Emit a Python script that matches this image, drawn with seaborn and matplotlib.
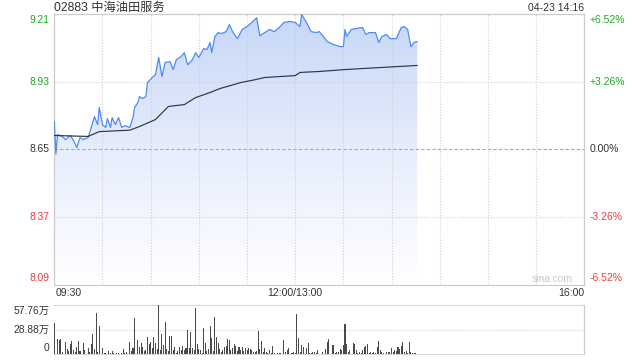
import numpy as np
import pandas as pd
import matplotlib
matplotlib.use("Agg")
import matplotlib.pyplot as plt
import seaborn as sns
from matplotlib.colors import LinearSegmentedColormap
from matplotlib.patches import Polygon

# ---------------- data ----------------
title = "02883 中海油田服务"
timestamp = "04-23 14:16"
prev_close = 8.65
price_ticks = [9.21, 8.93, 8.65, 8.37, 8.09]
pct_labels = ["+6.52%", "+3.26%", "0.00%", "-3.26%", "-6.52%"]
time_labels = ["09:30", "12:00/13:00", "16:00"]
time_label_minutes = [0, 150, 330]
session_minutes = 330
vol_ticks = [57.76, 28.88, 0]
vol_tick_labels = ["57.76万", "28.88万", "0"]

price_minute = [0, 1, 2, 5, 7, 10, 12, 14, 16, 18,
                21, 23, 25, 27, 28, 30, 32, 33, 35, 36,
                38, 40, 42, 44, 47, 49, 50, 52, 53, 55,
                57, 58, 61, 63, 65, 66, 67, 69, 72, 74,
                76, 79, 81, 83, 86, 88, 90, 93, 95, 97,
                98, 100, 102, 104, 107, 109, 111, 114, 117, 120,
                123, 126, 128, 131, 134, 137, 140, 143, 147, 150,
                153, 154, 157, 160, 163, 165, 170, 174, 178, 180,
                181, 182, 185, 188, 192, 194, 196, 200, 202, 204,
                207, 209, 213, 216, 218, 220, 222, 224, 226]
price = [8.766, 8.630, 8.711, 8.703, 8.690, 8.707, 8.686, 8.657, 8.698, 8.690,
         8.698, 8.740, 8.785, 8.752, 8.823, 8.752, 8.740, 8.777, 8.740, 8.781,
         8.752, 8.781, 8.740, 8.748, 8.740, 8.781, 8.823, 8.843, 8.868, 8.860,
         8.868, 8.926, 8.947, 8.959, 9.030, 8.992, 8.951, 9.009, 9.013, 8.980,
         9.021, 9.034, 9.050, 9.000, 9.021, 9.050, 9.030, 9.067, 9.063, 9.092,
         9.050, 9.117, 9.133, 9.129, 9.137, 9.166, 9.137, 9.108, 9.146, 9.158,
         9.175, 9.195, 9.120, 9.133, 9.146, 9.137, 9.154, 9.175, 9.179, 9.175,
         9.158, 9.208, 9.175, 9.137, 9.133, 9.137, 9.096, 9.083, 9.075, 9.075,
         9.146, 9.117, 9.146, 9.150, 9.154, 9.125, 9.133, 9.133, 9.092, 9.117,
         9.125, 9.108, 9.108, 9.154, 9.158, 9.146, 9.075, 9.092, 9.096]

avg_minute = [0, 21, 28, 47, 53, 63, 71, 81, 88, 97, 103, 116, 125, 131, 150, 153, 165, 181, 226]
avg_price = [8.707, 8.703, 8.723, 8.729, 8.744, 8.773, 8.827, 8.835, 8.864, 8.885,
             8.901, 8.926, 8.938, 8.947, 8.955, 8.968, 8.972, 8.980, 8.997]

# volume per minute, in 万 shares: (minute, volume)
volume_bars = [
    (0, 36.3), (2, 17.6), (3, 16.8), (4, 17.9), (5, 3.1), (7, 14.0), (8, 6.2), (9, 4.3),
    (10, 12.1), (11, 15.6), (12, 5.1), (13, 3.1), (14, 9.0), (15, 15.6), (16, 4.3), (18, 13.7),
    (19, 5.1), (21, 7.8), (22, 3.1), (23, 12.1), (24, 23.8), (25, 5.9), (26, 48.0), (27, 3.1),
    (28, 33.5), (30, 7.0), (31, 2.0), (32, 1.2), (34, 4.3), (35, 2.0), (36, 3.9), (37, 2.0),
    (39, 2.0), (40, 1.2), (42, 2.0), (43, 5.9), (44, 1.2), (45, 2.3), (47, 14.0), (48, 3.9),
    (49, 7.8), (50, 42.1), (52, 16.8), (53, 9.0), (54, 12.9), (55, 9.0), (56, 3.5), (57, 5.1),
    (58, 20.7), (59, 11.7), (60, 14.8), (61, 7.8), (62, 20.7), (63, 13.7), (64, 5.9), (65, 57.7),
    (66, 5.1), (67, 23.8), (68, 10.9), (69, 37.4), (70, 5.9), (71, 4.3), (72, 21.5), (73, 21.5),
    (74, 5.1), (75, 9.0), (76, 2.0), (77, 3.5), (78, 9.0), (79, 5.1), (80, 10.1), (81, 5.1),
    (82, 7.0), (83, 28.5), (84, 7.8), (85, 26.5), (86, 7.0), (87, 5.1), (88, 53.8), (89, 12.1),
    (90, 5.9), (91, 5.1), (92, 1.2), (93, 30.4), (94, 12.9), (95, 3.9), (96, 5.9), (97, 33.2),
    (98, 18.7), (99, 4.3), (100, 44.1), (101, 20.7), (102, 13.7), (103, 5.9), (104, 3.1), (105, 5.1),
    (106, 9.0), (107, 9.8), (108, 17.9), (109, 16.8), (110, 5.1), (111, 7.0), (112, 12.1), (113, 10.1),
    (114, 3.9), (115, 8.2), (116, 5.1), (117, 9.0), (118, 4.3), (119, 7.0), (120, 5.1), (121, 7.0),
    (122, 5.9), (123, 5.1), (124, 2.3), (125, 2.3), (126, 3.9), (127, 27.7), (128, 5.9), (129, 15.6),
    (130, 3.1), (131, 7.0), (132, 3.1), (133, 1.2), (134, 5.1), (135, 2.0), (136, 10.1), (137, 1.2),
    (139, 2.0), (140, 1.2), (141, 2.0), (143, 16.8), (144, 3.1), (145, 5.1), (146, 7.8), (148, 1.2),
    (149, 2.7), (150, 2.0), (151, 47.2), (152, 18.7), (153, 3.1), (154, 10.9), (155, 9.0), (157, 7.0),
    (158, 13.7), (159, 2.0), (160, 2.0), (161, 2.7), (162, 3.1), (163, 1.2), (164, 5.1),
    (167, 3.1), (169, 5.9), (170, 14.0), (171, 17.9), (173, 10.9), (174, 10.9), (175, 2.0), (176, 3.1),
    (177, 3.1), (178, 5.9), (179, 5.1), (180, 10.9), (181, 35.5), (182, 12.1), (183, 3.1), (184, 5.1),
    (186, 12.9), (187, 12.1), (188, 5.1), (189, 2.0), (190, 3.1), (191, 1.2), (192, 5.1), (193, 9.0),
    (194, 10.1), (195, 12.1), (196, 2.0), (197, 3.1), (198, 2.0), (199, 3.1), (200, 2.0), (201, 8.2),
    (202, 15.6), (203, 5.1), (204, 3.1), (205, 2.0), (207, 3.1), (208, 2.3), (209, 3.1), (210, 7.0),
    (211, 3.1), (212, 5.1), (213, 3.9), (214, 8.2), (215, 5.9), (216, 9.8), (217, 14.0), (218, 3.1),
    (219, 3.9), (220, 2.0), (221, 14.0), (222, 3.1), (223, 2.0), (224, 1.2), (225, 1.2),
]

# ---------------- style ----------------
GREEN = "#1ea81e"
RED = "#f03c3c"
DARK = "#333333"
GRID = "#cfcfcf"
LINE_BLUE = "#4d8cf5"

sns.set_style("white")
plt.rcParams["font.family"] = ["Liberation Sans", "Noto Sans CJK SC", "DejaVu Sans"]

W, H = 640, 360
fig = plt.figure(figsize=(6.4, 3.6), dpi=100)
fig.patch.set_facecolor("white")

L, R = 54.3, 584.3
T_MAIN, B_MAIN = 14.0, 284.5
T_VOL, B_VOL = 305.0, 354.3
ax = fig.add_axes([L / W, 1 - B_MAIN / H, (R - L) / W, (B_MAIN - T_MAIN) / H])
axv = fig.add_axes([L / W, 1 - B_VOL / H, (R - L) / W, (B_VOL - T_VOL) / H])

ymin, ymax = price_ticks[-1], price_ticks[0]

# gradient fill under the price line
verts = np.column_stack([
    np.r_[price_minute, price_minute[::-1]],
    np.r_[price, [ymin] * len(price)],
])
clip = Polygon(verts, closed=True, transform=ax.transData, fc="none", ec="none")
ax.add_patch(clip)
cmap = LinearSegmentedColormap.from_list("fill", ["#ffffff", "#e6edfc", "#c6d7f7"])
grad = np.linspace(0, 1, 256).reshape(-1, 1)
im = ax.imshow(grad, extent=[0, session_minutes, ymin, ymax], origin="lower",
               aspect="auto", cmap=cmap, zorder=1, interpolation="bilinear")
im.set_clip_path(clip)

# grid
for v in price_ticks[1:-1]:
    if v == prev_close:
        ax.axhline(v, color="#a8a8a8", ls=(0, (3, 2)), lw=0.8, zorder=2)
    else:
        ax.axhline(v, color=GRID, ls=(0, (1, 1.5)), lw=0.8, zorder=2)
for m in range(30, session_minutes, 30):
    ax.axvline(m, color=GRID, ls=(0, (1, 1.5)), lw=0.8, zorder=2)

# lines
pdf = pd.DataFrame({"minute": price_minute, "price": price})
adf = pd.DataFrame({"minute": avg_minute, "price": avg_price})
sns.lineplot(data=pdf, x="minute", y="price", ax=ax, color=LINE_BLUE, lw=0.9, zorder=4)
sns.lineplot(data=adf, x="minute", y="price", ax=ax, color="#2e3444", lw=0.85, zorder=5)

ax.set_xlim(0, session_minutes)
ax.set_ylim(ymin, ymax)
ax.set_xticks([])
ax.set_yticks([])
ax.set_xlabel("")
ax.set_ylabel("")
for s in ax.spines.values():
    s.set_visible(True)
    s.set_color("#cccccc")
    s.set_linewidth(0.9)

PX = 0.72  # points per pixel at 100 dpi


def side_label(axis, text, yval, side, dy_px, color, size):
    xf = 0 if side == "left" else 1
    dx = -5 if side == "left" else 5.7
    axis.annotate(text, xy=(xf, yval), xycoords=("axes fraction", "data"),
                  xytext=(dx * PX, dy_px * PX), textcoords="offset points",
                  ha="right" if side == "left" else "left", va="center",
                  color=color, fontsize=size)


for i, (v, pl) in enumerate(zip(price_ticks, pct_labels)):
    color = GREEN if v > prev_close else (RED if v < prev_close else DARK)
    dy = -6 if i == 0 else (6.5 if i == len(price_ticks) - 1 else 0)
    side_label(ax, f"{v:.2f}", v, "left", dy, color, 7.4)
    side_label(ax, pl, v, "right", dy, color, 7.5)

# x labels
for lab, m in zip(time_labels, time_label_minutes):
    ha = "left" if m == 0 else ("right" if m == session_minutes else "center")
    dx = 1 if m == 0 else 0
    ax.annotate(lab, xy=(m, 0), xycoords=("data", "axes fraction"),
                xytext=(dx * PX, -8.3 * PX), textcoords="offset points",
                ha=ha, va="center", color=DARK, fontsize=7.6)

# watermark
ax.annotate("sina.com", xy=(1, 0), xycoords="axes fraction", xytext=(-11.5 * PX, 5.5 * PX),
            textcoords="offset points", ha="right", va="center", color="#c8c8c8", fontsize=7.4)

# title and timestamp
fig.text(L / W, 1 - 8 / H, title, ha="left", va="center", color=DARK, fontsize=8.8)
fig.text(R / W, 1 - 8 / H, timestamp, ha="right", va="center", color=DARK, fontsize=7.6)

# volume
vdf = pd.DataFrame(volume_bars, columns=["minute", "volume"])
sns.histplot(data=vdf, x="minute", weights="volume", discrete=True, shrink=0.65,
             color="#4a4a4a", alpha=1, linewidth=0, antialiased=False, ax=axv, zorder=3)
axv.set_xlim(0, session_minutes)
axv.set_ylim(0, vol_ticks[0])
axv.set_xticks([])
axv.set_yticks([])
axv.set_xlabel("")
axv.set_ylabel("")
axv.axhline(vol_ticks[1], color=GRID, ls=(0, (1, 1.5)), lw=0.8, zorder=1)
for k in ["top", "bottom"]:
    axv.spines[k].set_visible(True)
    axv.spines[k].set_color(GRID)
    axv.spines[k].set_linestyle((0, (1, 1.5)))
    axv.spines[k].set_linewidth(0.8)
axv.spines["right"].set_visible(True)
axv.spines["right"].set_color("#cccccc")
axv.spines["right"].set_linewidth(0.9)
axv.spines["left"].set_visible(False)

for i, (v, lab) in enumerate(zip(vol_ticks, vol_tick_labels)):
    dy = -5.7 if i == 0 else (6.3 if i == len(vol_ticks) - 1 else 0)
    side_label(axv, lab, v, "left", dy, DARK, 7.4)

fig.savefig("out.png", dpi=100)
